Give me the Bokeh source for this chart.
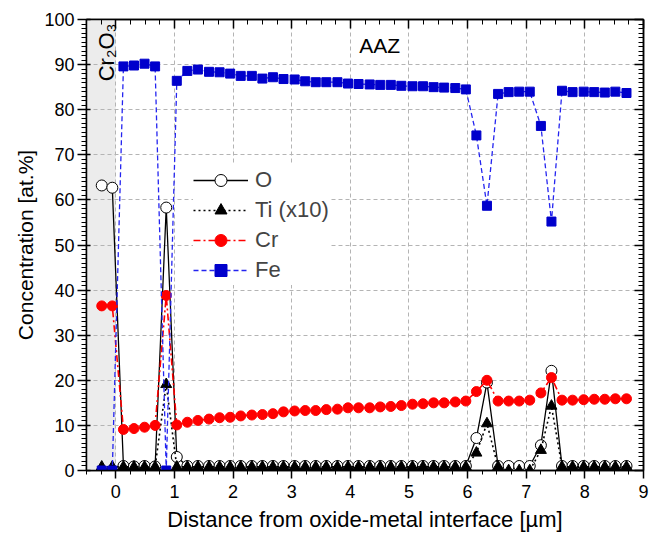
from math import pi

from bokeh.embed import file_html
from bokeh.models import (BoxAnnotation, CustomJSTickFormatter, FixedTicker, Label,
                          Legend, LegendItem, LinearAxis, Range1d, Title)
from bokeh.plotting import figure
from bokeh.resources import INLINE

FONT = "Liberation Sans"

# Depth profile across the oxide scale / metal interface (distance in µm)
distance = [-0.24, -0.06, 0.13, 0.31, 0.49, 0.67, 0.86, 1.04, 1.22, 1.40,
            1.59, 1.77, 1.95, 2.13, 2.32, 2.50, 2.68, 2.86, 3.05, 3.23,
            3.41, 3.59, 3.78, 3.96, 4.14, 4.33, 4.51, 4.69, 4.87, 5.06,
            5.24, 5.42, 5.60, 5.79, 5.97, 6.15, 6.33, 6.52, 6.70, 6.88,
            7.06, 7.25, 7.43, 7.61, 7.79, 7.98, 8.16, 8.34, 8.52, 8.71]

oxygen = [63.2, 62.7, 1.0, 0.9, 1.0, 0.9, 58.3, 3.0, 1.0, 1.0,
          1.0, 1.0, 1.0, 1.0, 1.0, 1.0, 1.0, 1.0, 1.0, 1.0,
          1.0, 1.0, 1.0, 1.0, 1.0, 1.0, 1.0, 1.0, 1.0, 1.0,
          1.0, 1.0, 1.0, 1.0, 1.0, 7.2, 19.5, 1.0, 1.0, 1.0,
          1.0, 5.6, 22.1, 1.0, 1.0, 1.0, 1.0, 1.0, 1.0, 1.0]

titanium_x10 = [0.8, 0.8, 0.8, 0.8, 0.8, 0.8, 19.1, 0.8, 0.8, 0.8,
                0.8, 0.8, 0.8, 0.8, 0.8, 0.8, 0.8, 0.8, 0.8, 0.8,
                0.8, 0.8, 0.8, 0.8, 0.8, 0.8, 0.8, 0.8, 0.8, 0.8,
                0.8, 0.8, 0.8, 0.8, 0.8, 3.9, 10.4, 0.8, 0.0, 0.0,
                0.0, 4.5, 14.3, 0.8, 0.8, 0.8, 0.8, 0.8, 0.8, 0.8]

chromium = [36.5, 36.5, 9.1, 9.3, 9.6, 10.0, 38.8, 10.1, 10.7, 11.1,
            11.4, 11.7, 11.8, 12.1, 12.3, 12.4, 12.6, 13.0, 13.2, 13.3,
            13.3, 13.5, 13.6, 13.9, 13.9, 13.9, 14.1, 14.2, 14.4, 14.7,
            14.8, 15.0, 15.0, 15.2, 15.4, 17.5, 20.0, 15.4, 15.4, 15.4,
            15.6, 17.2, 20.6, 15.6, 15.6, 15.7, 15.8, 15.8, 15.9, 15.9]

iron = [0.0, 0.0, 89.6, 89.8, 90.2, 89.6, 0.0, 86.4, 88.6, 88.9,
        88.4, 88.3, 88.0, 87.5, 87.5, 86.9, 87.2, 86.8, 86.7, 86.3,
        86.1, 86.1, 86.1, 85.8, 85.7, 85.6, 85.5, 85.5, 85.3, 85.2,
        85.2, 85.0, 84.9, 84.8, 84.5, 74.3, 58.7, 83.5, 83.9, 84.0,
        84.0, 76.4, 55.2, 84.2, 83.9, 84.0, 83.9, 83.8, 84.0, 83.7]

x_major = list(range(0, 10))
x_minor = [-0.5 + 0.25 * k for k in range(39)]
y_major = list(range(0, 101, 10))
y_minor = list(range(0, 101))

p = figure(width=649, height=543, output_backend="svg", toolbar_location=None,
           x_range=Range1d(-0.5, 9), y_range=Range1d(0, 100),
           min_border_left=86, min_border_right=6, min_border_top=19,
           min_border_bottom=73, outline_line_color="black", outline_line_width=1.5)
p.background_fill_color = "white"
p.border_fill_color = "white"

# Cr2O3 scale region
p.add_layout(BoxAnnotation(left=-0.5, right=0, fill_color="#ececec", fill_alpha=1,
                           line_color=None, level="image"))

for grid, ticks in ((p.xgrid, x_major), (p.ygrid, y_major)):
    grid.ticker = FixedTicker(ticks=ticks)
    grid.grid_line_color = "#b4b4b4"
    grid.grid_line_dash = "4 3"
    grid.grid_line_width = 1

xa = p.xaxis[0]
xa.ticker = FixedTicker(ticks=x_major, minor_ticks=x_minor)
xa.major_tick_out = 8
xa.major_tick_in = 0
xa.minor_tick_out = 4
xa.minor_tick_in = 0
xa.major_label_standoff = 6

ya = p.yaxis[0]
ya.ticker = FixedTicker(ticks=y_major, minor_ticks=y_minor)
ya.major_tick_out = 9
ya.major_tick_in = 4
ya.minor_tick_out = 5
ya.minor_tick_in = 0
ya.major_label_standoff = 3

for ax in (xa, ya):
    ax.axis_line_width = 1.5
    ax.major_tick_line_width = 1.5
    ax.minor_tick_line_width = 1
    ax.major_label_text_font = FONT
    ax.major_label_text_font_size = "18px"
    ax.major_label_text_color = "black"

blank = CustomJSTickFormatter(code="return ''")
top = LinearAxis(ticker=FixedTicker(ticks=x_major, minor_ticks=x_minor), formatter=blank,
                 major_tick_in=9, major_tick_out=0, minor_tick_in=5, minor_tick_out=0,
                 major_label_standoff=0, axis_line_width=1.5, major_tick_line_width=1.5)
right = LinearAxis(ticker=FixedTicker(ticks=y_major, minor_ticks=y_minor), formatter=blank,
                   major_tick_in=9, major_tick_out=0, minor_tick_in=5, minor_tick_out=0,
                   major_label_standoff=0, axis_line_width=1.5, major_tick_line_width=1.5)
p.add_layout(top, "above")
p.add_layout(right, "right")

# Axis titles (as side titles so they can sit slightly off-centre)
p.add_layout(Title(text="Concentration [at.%]", align="center", offset=19, standoff=9,
                   text_font=FONT, text_font_size="21px", text_font_style="normal",
                   text_color="black"), "left")
p.add_layout(Title(text="Distance from oxide-metal interface [µm]", align="center",
                   offset=-7, standoff=9, text_font=FONT, text_font_size="22px",
                   text_font_style="normal", text_color="black"), "below")

# O
o_line = p.line(distance, oxygen, line_color="black", line_width=1.3)
o_pts = p.scatter(distance, oxygen, marker="circle", size=11, fill_color="white",
                  line_color="black", line_width=1)
# Ti (x10)
ti_line = p.line(distance, titanium_x10, line_color="black", line_width=1.6, line_dash="2 3")
ti_pts = p.scatter(distance, titanium_x10, marker="triangle", size=11, fill_color="black",
                   line_color="black")
# Cr
cr_line = p.line(distance, chromium, line_color="#ff0000", line_width=1.6, line_dash="7 3 2 3")
cr_pts = p.scatter(distance, chromium, marker="circle", size=10, fill_color="#ff0000",
                   line_color="#ff0000")
# Fe
fe_line = p.line(distance, iron, line_color="#2424f0", line_width=1.3, line_dash="5 3")
fe_pts = p.scatter(distance, iron, marker="square", size=9, fill_color="#0000cc",
                   line_color="#0000cc")

legend = Legend(items=[LegendItem(label="O", renderers=[o_line, o_pts]),
                       LegendItem(label="Ti (x10)", renderers=[ti_line, ti_pts]),
                       LegendItem(label="Cr", renderers=[cr_line, cr_pts]),
                       LegendItem(label="Fe", renderers=[fe_line, fe_pts])],
                location=(107, 185), border_line_color=None,
                background_fill_color="white", background_fill_alpha=1,
                label_text_font=FONT, label_text_font_size="22px",
                glyph_width=55, glyph_height=30, label_height=30, spacing=0,
                padding=4, margin=0, label_standoff=7)
p.add_layout(legend)

p.add_layout(Label(x=4.5, y=94.3, text="AAZ", text_align="center", text_baseline="middle",
                   text_font=FONT, text_font_size="21px", text_color="black"))
p.add_layout(Label(x=-0.16, y=92.7, text="Cr₂O₃", angle=pi / 2, text_align="center",
                   text_baseline="alphabetic", text_font=FONT, text_font_size="22px",
                   text_color="black"))

open("out.html", "w").write(file_html(p, INLINE))
